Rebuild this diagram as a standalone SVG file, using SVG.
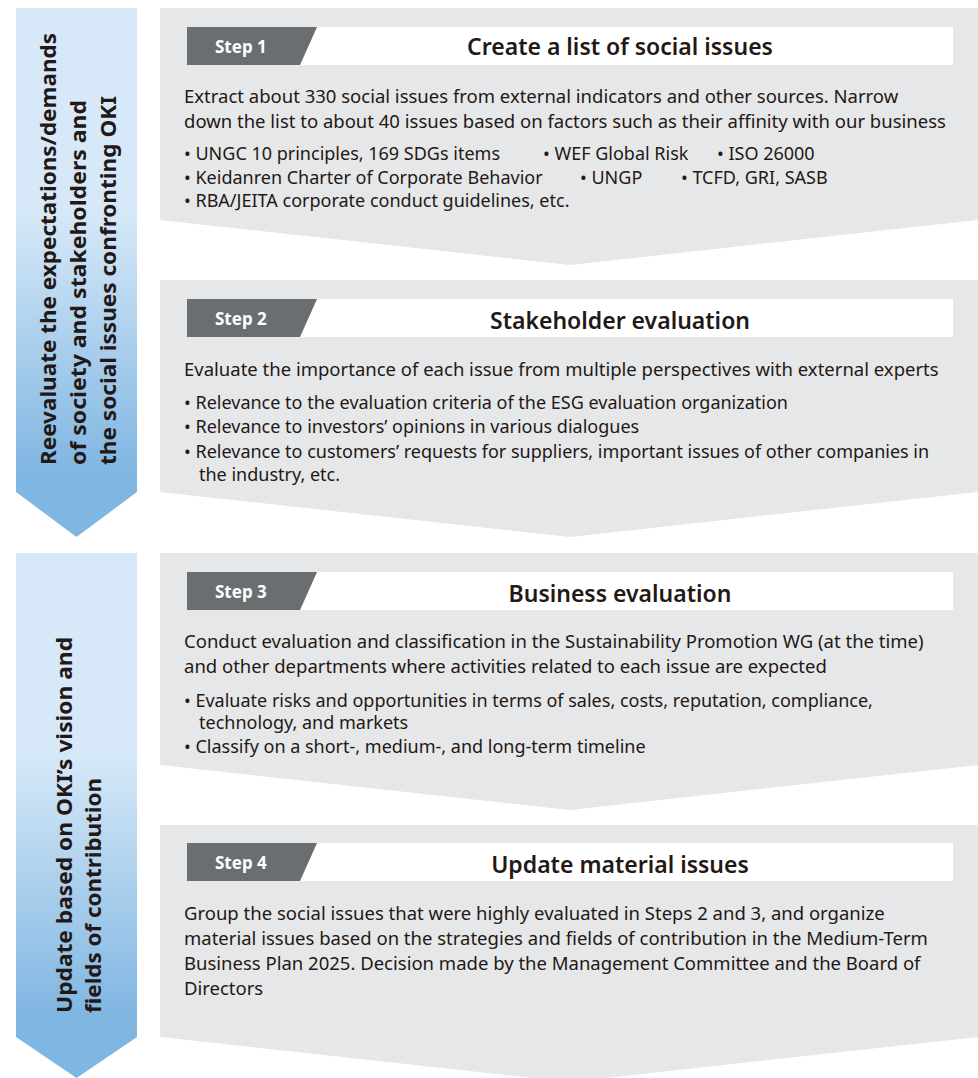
<svg xmlns="http://www.w3.org/2000/svg" width="978" height="1078" viewBox="0 0 978 1078">
<defs>
<linearGradient id="blue" x1="0" y1="0" x2="0" y2="1">
<stop offset="0" stop-color="#d7e9f8"/>
<stop offset="0.38" stop-color="#d7e9f8"/>
<stop offset="0.88" stop-color="#80b6e2"/>
<stop offset="1" stop-color="#80b6e2"/>
</linearGradient>
<style>
.panel{fill:#e6e7e8}
.tag{fill:#6a6e71}
.bar{fill:#ffffff}
.lbl{font-family:"Noto Sans","Liberation Sans",sans-serif;font-weight:700;font-size:17px;fill:#ffffff}
.ttl{font-family:"Noto Sans","Liberation Sans",sans-serif;font-weight:600;font-size:23px;fill:#231815;text-anchor:middle}
.body{font-family:"Noto Sans","Liberation Sans",sans-serif;font-size:18.5px;fill:#231815}
.bul{font-family:"Noto Sans","Liberation Sans",sans-serif;font-size:18px;fill:#231815}
.side{font-family:"Noto Sans","Liberation Sans",sans-serif;font-weight:700;font-size:22px;fill:#231815}
</style>
</defs>
<rect width="978" height="1078" fill="#ffffff"/>

<g id="phase1">
<polygon points="16,8 137,8 137,492 76.5,537 16,492" fill="url(#blue)"/>
<text class="side" transform="translate(56,465) rotate(-90)" textLength="432" lengthAdjust="spacingAndGlyphs">Reevaluate the expectations/demands</text>
<text class="side" transform="translate(86,465) rotate(-90)" textLength="365" lengthAdjust="spacingAndGlyphs">of society and stakeholders and</text>
<text class="side" transform="translate(116,465) rotate(-90)" textLength="369" lengthAdjust="spacingAndGlyphs">the social issues confronting OKI</text>
</g>

<g id="phase2">
<polygon points="16,553 137,553 137,1037 76.5,1078 16,1037" fill="url(#blue)"/>
<text class="side" transform="translate(72,1013) rotate(-90)" textLength="376" lengthAdjust="spacingAndGlyphs">Update based on OKI’s vision and</text>
<text class="side" transform="translate(101,1013) rotate(-90)" textLength="235" lengthAdjust="spacingAndGlyphs">fields of contribution</text>
</g>

<g id="step1">
<polygon class="panel" points="160,8 978,8 978,220 570,265 160,220"/>
<polygon class="bar" points="317,27 953,27 953,65 300,65"/>
<polygon class="tag" points="187,27 317,27 300,65 187,65"/>
<text class="lbl" x="215" y="53">Step 1</text>
<text class="ttl" x="620" y="55">Create a list of social issues</text>
<text class="body" x="184" y="103">Extract about 330 social issues from external indicators and other sources. Narrow</text>
<text class="body" x="184" y="128">down the list to about 40 issues based on factors such as their affinity with our business</text>
<text class="bul" x="184" y="160">• UNGC 10 principles, 169 SDGs items</text>
<text class="bul" x="543" y="160">• WEF Global Risk</text>
<text class="bul" x="717" y="160">• ISO 26000</text>
<text class="bul" x="184" y="184">• Keidanren Charter of Corporate Behavior</text>
<text class="bul" x="580" y="184">• UNGP</text>
<text class="bul" x="681" y="184">• TCFD, GRI, SASB</text>
<text class="bul" x="184" y="207">• RBA/JEITA corporate conduct guidelines, etc.</text>
</g>

<g id="step2">
<polygon class="panel" points="160,280 978,280 978,492 570,537 160,492"/>
<polygon class="bar" points="317,299 953,299 953,337 300,337"/>
<polygon class="tag" points="187,299 317,299 300,337 187,337"/>
<text class="lbl" x="215" y="325">Step 2</text>
<text class="ttl" x="620" y="329">Stakeholder evaluation</text>
<text class="body" x="184" y="376">Evaluate the importance of each issue from multiple perspectives with external experts</text>
<text class="bul" x="184" y="409">• Relevance to the evaluation criteria of the ESG evaluation organization</text>
<text class="bul" x="184" y="433">• Relevance to investors’ opinions in various dialogues</text>
<text class="bul" x="184" y="458">• Relevance to customers’ requests for suppliers, important issues of other companies in</text>
<text class="bul" x="199" y="481">the industry, etc.</text>
</g>

<g id="step3">
<polygon class="panel" points="160,553 978,553 978,765 570,810 160,765"/>
<polygon class="bar" points="317,572 953,572 953,610 300,610"/>
<polygon class="tag" points="187,572 317,572 300,610 187,610"/>
<text class="lbl" x="215" y="598">Step 3</text>
<text class="ttl" x="620" y="602">Business evaluation</text>
<text class="body" x="184" y="648">Conduct evaluation and classification in the Sustainability Promotion WG (at the time)</text>
<text class="body" x="184" y="673">and other departments where activities related to each issue are expected</text>
<text class="bul" x="184" y="707">• Evaluate risks and opportunities in terms of sales, costs, reputation, compliance,</text>
<text class="bul" x="199" y="729">technology, and markets</text>
<text class="bul" x="184" y="753">• Classify on a short-, medium-, and long-term timeline</text>
</g>

<g id="step4">
<polygon class="panel" points="160,825 978,825 978,1037 570,1082 160,1037"/>
<polygon class="bar" points="317,843 953,843 953,881 300,881"/>
<polygon class="tag" points="187,843 317,843 300,881 187,881"/>
<text class="lbl" x="215" y="869">Step 4</text>
<text class="ttl" x="620" y="873">Update material issues</text>
<text class="body" x="184" y="920">Group the social issues that were highly evaluated in Steps 2 and 3, and organize</text>
<text class="body" x="184" y="945">material issues based on the strategies and fields of contribution in the Medium-Term</text>
<text class="body" x="184" y="970">Business Plan 2025. Decision made by the Management Committee and the Board of</text>
<text class="body" x="184" y="995">Directors</text>
</g>

<g id="connectors"></g>
</svg>
